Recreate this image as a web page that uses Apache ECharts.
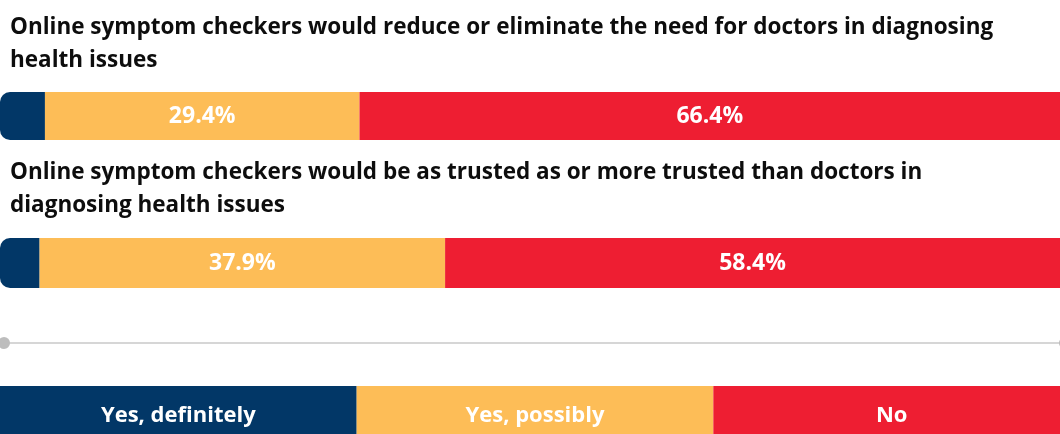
<!DOCTYPE html>
<html>
<head>
<meta charset="utf-8">
<script src="https://cdn.jsdelivr.net/npm/echarts@6/dist/echarts.min.js"></script>
<style>
  html, body { margin: 0; padding: 0; background: #fff; }
  #chart { width: 1060px; height: 434px; }
</style>
</head>
<body>
<div id="chart"></div>
<script>
// Survey questions (one stacked bar each) and answer shares in percent
const questions = [
  'Online symptom checkers would reduce or eliminate the need for doctors in diagnosing\nhealth issues',
  'Online symptom checkers would be as trusted as or more trusted than doctors in\ndiagnosing health issues'
];
const answers = ['Yes, definitely', 'Yes, possibly', 'No'];
const answerColors = ['#023767', '#FDBD57', '#EE1E32'];
const definitely = [4.2, 3.7];
const possibly = [29.4, 37.9];
const no = [66.4, 58.4];
const answerValues = [definitely, possibly, no];

const FONT = '"Open Sans", sans-serif';
const chart = echarts.init(document.getElementById('chart'), null, { renderer: 'canvas' });

// Layout of each question block: title top, bar top, bar height
const blocks = [
  { titleTop: 11, barTop: 92, barHeight: 48 },
  { titleTop: 156, barTop: 238, barHeight: 50 }
];
// The full 0–100% scale runs slightly past the right edge of the canvas
const visibleMax = 99.07;

const grids = blocks.map(b => ({ left: 0, right: 0, top: b.barTop, height: b.barHeight }));
const xAxes = blocks.map((b, i) => ({
  type: 'value', gridIndex: i, min: 0, max: visibleMax, show: false
}));
const yAxes = blocks.map((b, i) => ({
  type: 'category', gridIndex: i, data: [questions[i]], show: false
}));

const series = [];
blocks.forEach((b, qi) => {
  answers.forEach((name, ai) => {
    const first = ai === 0;
    series.push({
      name: name,
      type: 'bar',
      stack: 'q' + qi,
      xAxisIndex: qi,
      yAxisIndex: qi,
      barWidth: '100%',
      clip: true,
      data: [answerValues[ai][qi]],
      itemStyle: {
        color: answerColors[ai],
        borderRadius: first ? [10, 0, 0, 10] : 0
      },
      label: {
        show: !first,
        position: 'inside',
        formatter: '{c}%',
        color: '#fff',
        fontFamily: FONT,
        fontWeight: 'bold',
        fontSize: 23
      },
      silent: true
    });
  });
});

const titles = blocks.map((b, i) => ({
  text: questions[i],
  left: 10,
  top: b.titleTop,
  padding: 0,
  textStyle: {
    fontFamily: FONT,
    fontWeight: 'bold',
    fontSize: 22.5,
    lineHeight: 33,
    color: '#0d0d0d'
  }
}));

// Legend drawn as a row of coloured blocks spanning the scale width
const legendTop = 386;
const legendH = 60;
const blockW = 1070 / answers.length;
const legendGraphics = [];
answers.forEach((name, i) => {
  legendGraphics.push({
    type: 'rect',
    id: 'legend-box-' + i,
    shape: { x: i * blockW, y: legendTop, width: blockW, height: legendH },
    style: { fill: answerColors[i] }
  });
  legendGraphics.push({
    type: 'text',
    id: 'legend-text-' + i,
    x: i * blockW + blockW / 2,
    y: legendTop + 30,
    style: {
      text: name,
      fill: '#fff',
      font: 'bold 22px ' + FONT,
      textAlign: 'center',
      textVerticalAlign: 'middle'
    }
  });
});

// Divider line with end knobs
const dividerY = 343;
const divider = [
  { type: 'line', id: 'divider', shape: { x1: 0, y1: dividerY, x2: 1060, y2: dividerY }, style: { stroke: '#c8c8c8', lineWidth: 1.5 } },
  { type: 'circle', id: 'knob-l', shape: { cx: 4, cy: dividerY, r: 6 }, style: { fill: '#bdbdbd' } },
  { type: 'circle', id: 'knob-r', shape: { cx: 1065, cy: dividerY, r: 6 }, style: { fill: '#bdbdbd' } }
];

chart.setOption({
  animation: false,
  title: titles,
  grid: grids,
  xAxis: xAxes,
  yAxis: yAxes,
  series: series,
  graphic: { elements: divider.concat(legendGraphics) }
});
</script>
</body>
</html>
